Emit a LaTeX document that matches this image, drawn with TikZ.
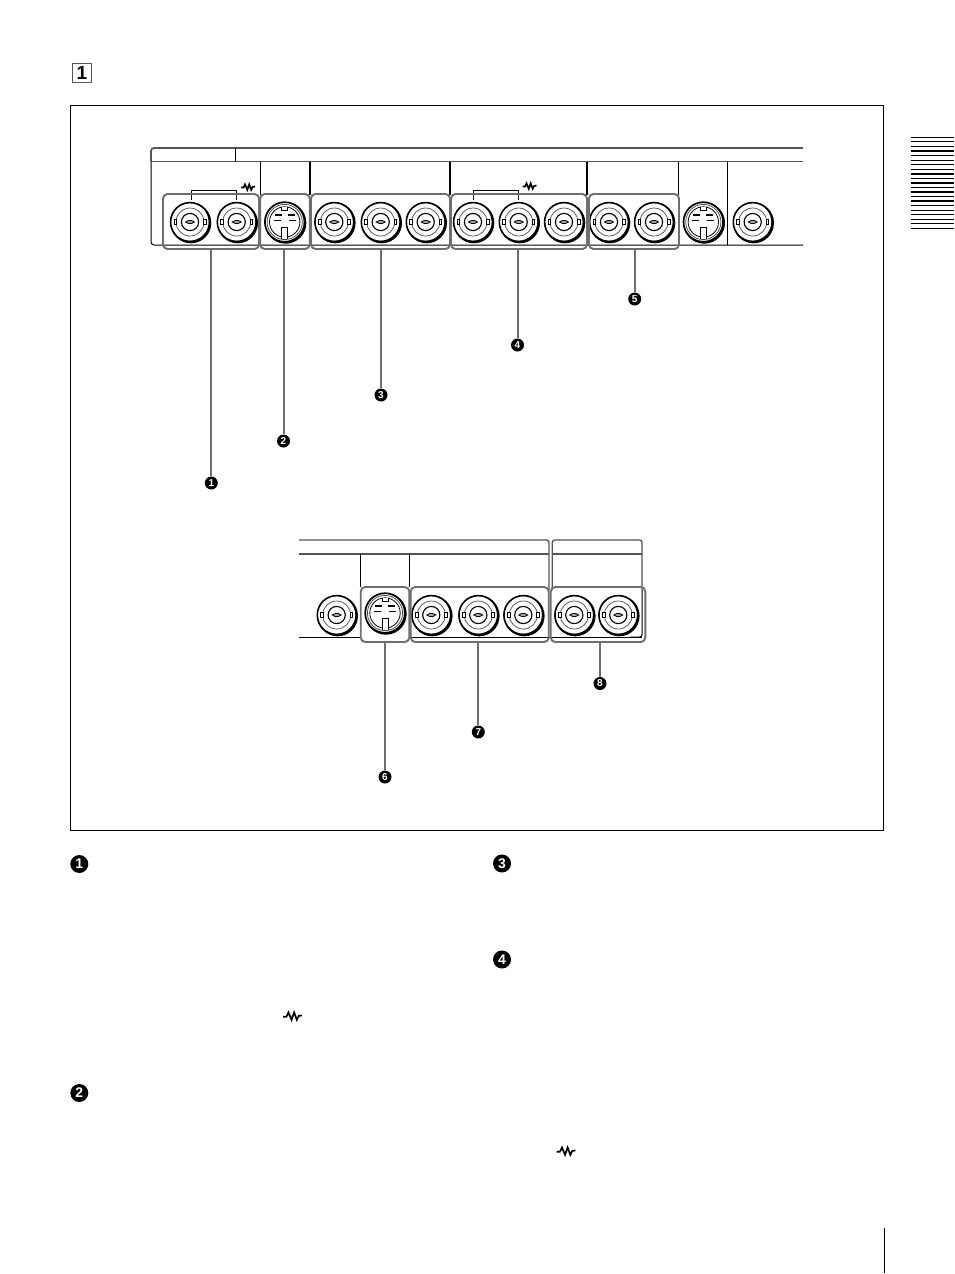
\documentclass[tikz,border=0pt]{standalone}
\usepackage{fontspec}
\setmainfont{Liberation Sans}
\definecolor{grp}{HTML}{6E6E6E}
\definecolor{pnl}{HTML}{555555}
\tikzset{
  graybox/.style={draw=grp,line width=1.9pt,rounded corners=4.5pt,inner sep=0pt},
  leader/.style={draw=grp,line width=2pt},
  smallbadge/.style={circle,fill=black,text=white,inner sep=0pt,minimum size=13pt,font=\bfseries\fontsize{10}{10}\selectfont},
  bigbadge/.style={circle,fill=black,text=white,inner sep=0pt,minimum size=18pt,font=\bfseries\fontsize{14}{14}\selectfont},
  thinl/.style={draw=black,line width=1pt},
  thickl/.style={draw=black,line width=1.9pt},
  panel/.style={draw=pnl,line width=1.8pt},
  pics/bnc/.style={code={
    \fill[black] (.9,.9) circle (20.4);
    \draw[black,line width=1.6pt,fill=white] (0,0) circle (19.4);
    \draw[black!70,line width=.7pt] (0,0) circle (14);
    \draw[black,line width=1.1pt,fill=white] (0,0) circle (8.6);
    \draw[black,line width=.7pt,fill=white] (-16,-2.6) rectangle (-13.4,2.6);
    \draw[black,line width=.7pt,fill=white] (13.4,-2.6) rectangle (16,2.6);
    \draw[black,line width=.8pt,fill=black!35] (-4.5,0) -- (-1.5,-1.5) -- (1.5,-1.5) -- (4.5,0) -- (1.5,1.5) -- (-1.5,1.5) -- cycle;
  }},
  pics/din/.style={code={
    \fill[black] (.9,.9) circle (20.8);
    \draw[black,line width=1.7pt,fill=white] (0,0) circle (19.8);
    \draw[black!75,line width=.7pt] (0,0) circle (17.6);
    \draw[black,line width=.8pt] (0,0) circle (15.2);
    \draw[black,line width=.8pt,fill=white] (-3,-15.2) -- (-3,-11.5) -- (3,-11.5) -- (3,-15.2);
    \draw[black,line width=1pt,fill=white] (-3,16.8) -- (-3,5) -- (3,5) -- (3,16.8);
    \foreach \sx in {-1,1}{
      \draw[black,line width=1.7pt] (\sx*3,-7) -- (\sx*10,-7);
      \draw[black,line width=1.7pt] (\sx*4,-1.5) -- (\sx*11,-1.5);
    }
  }},
  pics/squig/.style={code={
    \draw[black,line width=1.7pt,line join=miter] (-7,.5) -- (-4.5,.5) -- (-3,-2.6) -- (-.7,2.8) -- (1.2,-2.6) -- (3.2,2.8) -- (4.6,0) -- (7,-.5);
  }},
}
\begin{document}
\begin{tikzpicture}[x=1pt,y=-1pt]
\useasboundingbox (0,0) rectangle (954,1274);
\fill[white] (0,0) rectangle (954,1274);

% numbered square
\node[draw=pnl,line width=1.5pt,minimum size=19pt,inner sep=0pt,font=\bfseries\fontsize{19}{19}\selectfont] (fig) at (82,73) {1};
% main frame
\node[draw=black,line width=.9pt,minimum width=813pt,minimum height=725pt,inner sep=0pt] (frame) at (477,468) {};

% ---- upper panel
\draw[panel,rounded corners=3pt] (803,148) -- (151,148) -- (151,161.5);
\draw[panel] (151,161.5) -- (803,161.5);
\draw[thinl,rounded corners=3pt] (151,161.5) -- (151,245) -- (803,245);
\draw[thinl] (235.5,148) -- (235.5,161.5);
\draw[thinl] (260,161.5) -- (260,195);
\draw[thickl] (310,161.5) -- (310,195);
\draw[thickl] (450,161.5) -- (450,195);
\draw[thickl] (587,161.5) -- (587,195);
\draw[thinl] (678.7,161.5) -- (678.7,195);
\draw[thinl] (727.3,161.5) -- (727.3,245);
% brackets
\draw[thinl] (191,200) -- (191,190.5) -- (236.5,190.5) -- (236.5,200);
\draw[thinl] (473.3,200) -- (473.3,190.5) -- (518.7,190.5) -- (518.7,200);
\pic at (248,187) {squig};
\pic at (529.5,186) {squig};

\foreach \x in {190,236.7,334.3,380.7,425.7,473,518.7,564,609,654,752.7} \pic at (\x,222) {bnc};
\foreach \x in {284.7,703.3} \pic at (\x,222) {din};

% upper groups
\node[graybox,minimum width=96pt,minimum height=55pt] (g1) at (211,221.5) {};
\node[graybox,minimum width=49.5pt,minimum height=55pt] (g2) at (285,221.5) {};
\node[graybox,minimum width=139pt,minimum height=55pt] (g3) at (380.5,221.5) {};
\node[graybox,minimum width=136pt,minimum height=55pt] (g4) at (519,221.5) {};
\node[graybox,minimum width=90pt,minimum height=55pt] (g5) at (634,221.5) {};

\node[smallbadge] (b1) at (211.3,483) {1};
\node[smallbadge] (b2) at (283.5,441) {2};
\node[smallbadge] (b3) at (381,395) {3};
\node[smallbadge] (b4) at (517.5,345) {4};
\node[smallbadge] (b5) at (634.7,299) {5};
\draw[leader] (g1.south -| b1) -- (b1);
\draw[leader] (g2.south -| b2) -- (b2);
\draw[leader] (g3.south -| b3) -- (b3);
\draw[leader] (g4.south -| b4) -- (b4);
\draw[leader] (g5.south -| b5) -- (b5);

% ---- lower panel
\draw[panel,line width=1.3pt,rounded corners=2.5pt] (299,540) -- (549,540) -- (549,590);
\draw[panel,line width=1.3pt,rounded corners=2.5pt] (552.3,590) -- (552.3,540) -- (642,540) -- (642,590);
\draw[panel] (299,554) -- (549,554);
\draw[panel] (552.3,554) -- (642,554);
\draw[thinl] (299,637) -- (361,637);
\draw[thinl] (410,637) -- (642,637);
\draw[thinl,rounded corners=2.5pt] (642,590) -- (642,637) -- (630,637);
\draw[thinl] (360.7,554) -- (360.7,587);
\draw[thinl] (409.3,554) -- (409.3,587);

\pic at (336.7,615) {bnc};
\foreach \x in {431.3,478.3,523.3,574.3,618.3} \pic at (\x,615) {bnc};
\pic at (385,613) {din};

\node[graybox,minimum width=48.6pt,minimum height=55pt] (g6) at (385,614.5) {};
\node[graybox,minimum width=138pt,minimum height=55pt] (g7) at (479.7,614.5) {};
\node[graybox,minimum width=94.6pt,minimum height=55pt] (g8) at (598,614.5) {};

\node[smallbadge] (b6) at (385,777) {6};
\node[smallbadge] (b7) at (478.3,732) {7};
\node[smallbadge] (b8) at (600,683.5) {8};
\draw[leader] (g6.south -| b6) -- (b6);
\draw[leader] (g7.south -| b7) -- (b7);
\draw[leader] (g8.south -| b8) -- (b8);

% ---- text-column markers
\node[bigbadge] (t1) at (79.3,864) {1};
\node[bigbadge] (t2) at (79.3,1093) {2};
\node[bigbadge] (t3) at (502,863.5) {3};
\node[bigbadge] (t4) at (502,959.5) {4};
\pic[scale=1.35] at (292.5,1016) {squig};
\pic[scale=1.35] at (566,1151) {squig};

% ---- page-edge tab
\foreach \i in {0,...,20}{
  \pgfmathsetmacro{\yy}{137.3+4.56*\i}
  \pgfmathsetmacro{\lw}{mod(\i,2)==0 ? 1.5 : 1.1}
  \draw[black,line width=\lw pt] (910.5,\yy) -- (954,\yy);
}
% ---- footer rule
\draw[black,line width=1pt] (884,1228) -- (884,1273);
\end{tikzpicture}
\end{document}
